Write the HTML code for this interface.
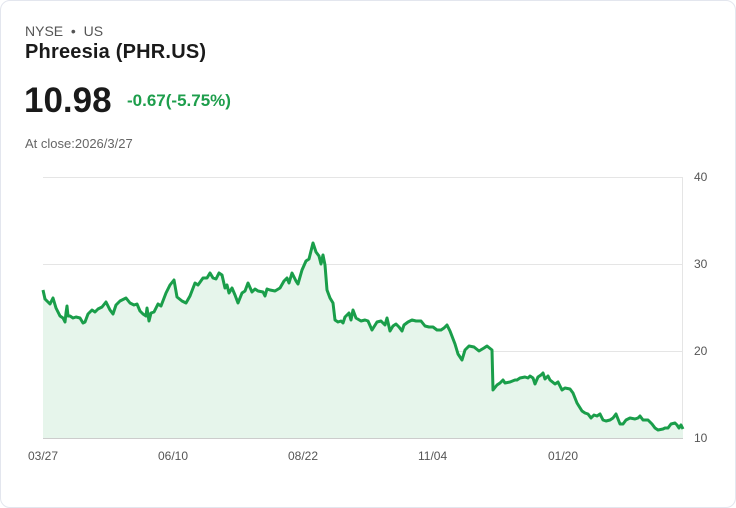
<!DOCTYPE html>
<html><head><style>
body{margin:0;width:736px;height:508px;background:#fff;font-family:"Liberation Sans",sans-serif;}
.card{position:absolute;left:0;top:0;width:734px;height:506px;border:1px solid #e3e6ee;border-radius:10px;}
.t{position:absolute;white-space:nowrap;}
</style></head><body>
<div class="card"></div>
<div class="t" style="left:25px;top:23px;font-size:14px;color:#555;">NYSE &nbsp;•&nbsp; US</div>
<div class="t" style="left:25px;top:41px;font-size:20px;font-weight:bold;color:#1a1a1a;letter-spacing:0.2px;">Phreesia (PHR.US)</div>
<div class="t" style="left:24px;top:81px;font-size:35px;font-weight:bold;color:#1a1a1a;">10.98</div>
<div class="t" style="left:127px;top:91px;font-size:17px;font-weight:bold;color:#1e9e4c;">-0.67(-5.75%)</div>
<div class="t" style="left:25px;top:136px;font-size:13px;color:#666;">At close:2026/3/27</div>
<svg width="736" height="508" style="position:absolute;left:0;top:0">
<g stroke="#e5e5e5" stroke-width="1">
<line x1="43" y1="177.5" x2="683" y2="177.5"/><line x1="43" y1="264.5" x2="683" y2="264.5"/><line x1="43" y1="351.5" x2="683" y2="351.5"/><line x1="43" y1="438.5" x2="683" y2="438.5" stroke="#ccc"/><line x1="682.5" y1="177" x2="682.5" y2="438"/>
</g>
<g font-size="12" fill="#555" font-family="Liberation Sans,sans-serif">
<text x="694" y="181">40</text><text x="694" y="268">30</text><text x="694" y="355">20</text><text x="694" y="442">10</text>
<text x="28" y="460">03/27</text><text x="158" y="460">06/10</text><text x="288" y="460">08/22</text><text x="418" y="460">11/04</text><text x="548" y="460">01/20</text>
</g>
<polygon fill="#e6f5eb" points="43,438 43,290 45,299 50,304 53,298 56,308 60,316 63,318 65,322 66,313 67,306 68,316 70,316 73,318 76,317 80,318 83,323 85,322 88,314 92,310 95,312 98,309 102,307 106,302 110,310 113,314 116,305 120,301 126,298 130,303 134,305 137,304 140,311 143,314 146,316 147,308 149,321 151,313 154,312 158,304 161,306 166,293 170,285 174,280 177,297 182,301 186,303 190,296 195,283 198,285 203,278 207,278 210,273 213,278 216,279 219,273 222,275 225,288 227,285 229,293 232,288 235,295 238,303 242,293 245,291 248,283 252,292 255,289 258,291 263,292 265,296 267,289 270,290 275,291 280,288 284,281 287,278 289,283 292,273 296,281 298,284 302,270 306,261 309,259 312,247 313,243 316,252 319,256 321,264 323,255 325,265 327,290 330,298 333,303 335,320 338,322 341,321 343,323 345,317 349,313 351,320 353,310 356,318 361,321 365,320 368,321 372,330 377,322 381,321 385,325 387,318 390,331 393,326 396,324 399,327 402,331 404,325 408,322 412,320 416,321 421,321 425,326 429,327 433,327 437,330 441,330 444,328 447,325 450,331 455,344 458,354 462,360 465,350 469,346 474,347 479,351 484,348 487,346 492,350 493,390 497,385 500,383 503,380 505,383 510,382 515,380 517,380 520,378 525,377 528,378 530,376 533,378 535,384 538,377 541,375 543,373 545,379 548,376 550,380 555,384 558,382 562,390 565,388 570,389 573,393 577,403 582,411 585,413 588,414 591,418 594,415 597,416 600,414 603,420 606,421 610,420 613,418 616,414 620,424 623,424 626,420 630,418 635,419 638,418 640,416 643,420 648,420 652,424 655,428 658,430 663,429 665,428 668,428 671,424 675,423 677,425 679,428 681,425 683,429 683,438"/>
<polyline fill="none" stroke="#1a9e4a" stroke-width="3" stroke-linejoin="round" points="43,290 45,299 50,304 53,298 56,308 60,316 63,318 65,322 66,313 67,306 68,316 70,316 73,318 76,317 80,318 83,323 85,322 88,314 92,310 95,312 98,309 102,307 106,302 110,310 113,314 116,305 120,301 126,298 130,303 134,305 137,304 140,311 143,314 146,316 147,308 149,321 151,313 154,312 158,304 161,306 166,293 170,285 174,280 177,297 182,301 186,303 190,296 195,283 198,285 203,278 207,278 210,273 213,278 216,279 219,273 222,275 225,288 227,285 229,293 232,288 235,295 238,303 242,293 245,291 248,283 252,292 255,289 258,291 263,292 265,296 267,289 270,290 275,291 280,288 284,281 287,278 289,283 292,273 296,281 298,284 302,270 306,261 309,259 312,247 313,243 316,252 319,256 321,264 323,255 325,265 327,290 330,298 333,303 335,320 338,322 341,321 343,323 345,317 349,313 351,320 353,310 356,318 361,321 365,320 368,321 372,330 377,322 381,321 385,325 387,318 390,331 393,326 396,324 399,327 402,331 404,325 408,322 412,320 416,321 421,321 425,326 429,327 433,327 437,330 441,330 444,328 447,325 450,331 455,344 458,354 462,360 465,350 469,346 474,347 479,351 484,348 487,346 492,350 493,390 497,385 500,383 503,380 505,383 510,382 515,380 517,380 520,378 525,377 528,378 530,376 533,378 535,384 538,377 541,375 543,373 545,379 548,376 550,380 555,384 558,382 562,390 565,388 570,389 573,393 577,403 582,411 585,413 588,414 591,418 594,415 597,416 600,414 603,420 606,421 610,420 613,418 616,414 620,424 623,424 626,420 630,418 635,419 638,418 640,416 643,420 648,420 652,424 655,428 658,430 663,429 665,428 668,428 671,424 675,423 677,425 679,428 681,425 683,429"/>
</svg>
</body></html>
